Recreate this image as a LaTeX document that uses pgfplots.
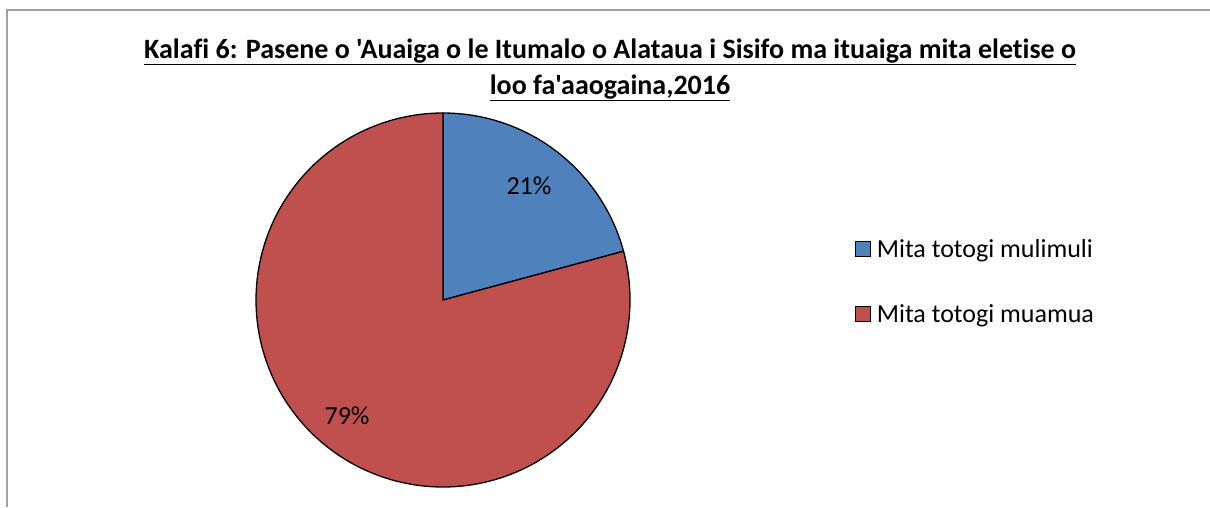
\documentclass[border=0pt]{standalone}
\usepackage{pgfplots}
\pgfplotsset{compat=1.18}
\usepackage{fontspec}
\setmainfont{Carlito}[Ligatures={TeXOff,NoCommon}]
\definecolor{pblue}{HTML}{4F81BD}
\definecolor{pred}{HTML}{C0504D}
\definecolor{framegray}{HTML}{A0A0A0}
% values (percent)
\newcommand\vA{20.8}% Mita totogi mulimuli
\newcommand\vB{79.2}% Mita totogi muamua
\begin{document}
\begin{tikzpicture}[x=1pt,y=1pt]
\useasboundingbox (0,0) rectangle (1210,507);
\draw[framegray, line width=2pt] (7,0) -- (7,497) -- (1210,497);
\node[font=\fontsize{28}{36}\selectfont\bfseries, align=center, inner sep=0pt] at (610,437)
  {\underline{Kalafi 6: Pasene o 'Auaiga o le Itumalo o Alataua i Sisifo ma ituaiga mita eletise o}\\
   \underline{loo fa'aaogaina,2016}};
\pgfmathsetmacro\angA{90-3.6*\vA}
\begin{axis}[at={(443pt,207pt)}, anchor=center, scale only axis,
  width=374pt, height=374pt, xmin=-1, xmax=1, ymin=-1, ymax=1,
  hide axis, clip=false,
  legend style={at={(1.6016,0.549)}, anchor=west, draw=none, fill=none,
    inner sep=0pt, font=\fontsize{26}{30}\selectfont, row sep=42pt},
  legend cell align=left,
  legend image code/.code={\draw[#1, line width=1pt] (0pt,-7.5pt) rectangle (15pt,7.5pt); \path (19pt,0pt);},
]
\addplot[fill=pblue, draw=black, line width=1.3pt, domain=\angA:90, samples=120, forget plot]
  ({cos(x)},{sin(x)}) -- (axis cs:0,0) -- cycle;
\addplot[fill=pred, draw=black, line width=1.3pt, domain=-270:\angA, samples=300, forget plot]
  ({cos(x)},{sin(x)}) -- (axis cs:0,0) -- cycle;
\node[font=\fontsize{26}{30}\selectfont] at (axis cs:0.46,0.61) {21\%};
\node[font=\fontsize{26}{30}\selectfont] at (axis cs:-0.513,-0.62) {79\%};
\addlegendimage{fill=pblue, draw=black}
\addlegendentry{Mita totogi mulimuli}
\addlegendimage{fill=pred, draw=black}
\addlegendentry{Mita totogi muamua}
\end{axis}
\end{tikzpicture}
\end{document}
